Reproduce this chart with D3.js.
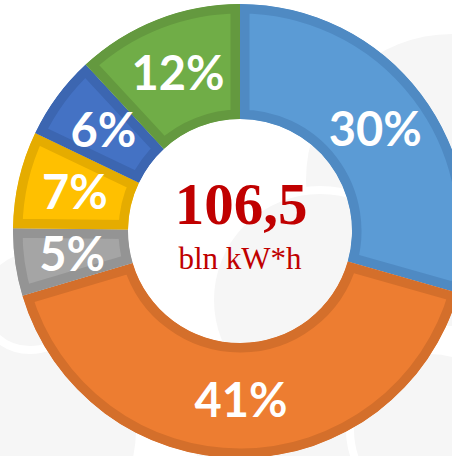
<!DOCTYPE html>
<html>
<head>
<meta charset="utf-8">
<script src="https://cdn.jsdelivr.net/npm/d3@7"></script>
<style>
  html, body { margin: 0; padding: 0; background: #fff; }
  svg { display: block; }
</style>
</head>
<body>
<svg width="452" height="456"></svg>
<script>
var sources = ['s1', 's2', 's3', 's4', 's5', 's6'];
var shares = [29.4, 41.0, 4.8, 6.9, 6.0, 11.9];
var shareLabels = ['30%', '41%', '5%', '7%', '6%', '12%'];
var fills = ['#5b9bd5', '#ed7d31', '#a5a5a5', '#ffc000', '#4472c4', '#70ad47'];
var borders = ['#4f8ac3', '#d46f2b', '#949494', '#e5ac00', '#3c66b1', '#64993f'];
var totalValue = '106,5';
var totalUnit = 'bln kW*h';

var svg = d3.select('svg');
var width = 452, height = 456;
var cx = 240, cy = 231;
var outerR = 227, innerR = 112;

// faint ornamental background (rough)
var bg = svg.append('g').attr('class', 'bg');
var bgBlobs = [
  [452, 180, 150], [10, 430, 130], [300, 430, 110], [430, 430, 80], [320, 300, 110], [30, 300, 50]
];
bg.selectAll('circle').data(bgBlobs).enter().append('circle')
  .attr('cx', function(d) { return d[0]; })
  .attr('cy', function(d) { return d[1]; })
  .attr('r', function(d) { return d[2]; })
  .attr('fill', '#f6f6f6')
  .attr('stroke', '#fff')
  .attr('stroke-width', 8);

var pie = d3.pie().sort(null).value(function(d) { return d; });
var arc = d3.arc().innerRadius(innerR).outerRadius(outerR);
var arcs = pie(shares);

var chart = svg.append('g').attr('transform', 'translate(' + cx + ',' + cy + ')');

var defs = svg.append('defs');
defs.selectAll('clipPath').data(arcs).enter().append('clipPath')
  .attr('id', function(d, i) { return 'clip-' + i; })
  .append('path')
  .attr('d', arc);

chart.selectAll('.slice').data(arcs).enter().append('path')
  .attr('class', 'slice')
  .attr('d', arc)
  .attr('fill', function(d, i) { return fills[i]; })
  .attr('stroke', function(d, i) { return borders[i]; })
  .attr('stroke-width', 19)
  .attr('clip-path', function(d, i) { return 'url(#clip-' + i + ')'; });

chart.selectAll('.pct').data(arcs).enter().append('text')
  .attr('class', 'pct')
  .attr('transform', function(d) { return 'translate(' + arc.centroid(d) + ')'; })
  .attr('text-anchor', 'middle')
  .attr('dy', '0.36em')
  .style('font-family', 'Lato, "Open Sans", sans-serif')
  .style('font-weight', 700)
  .style('font-size', '47px')
  .attr('fill', '#fff')
  .text(function(d, i) { return shareLabels[i]; });

chart.append('text')
  .attr('x', 1)
  .attr('y', -7)
  .attr('text-anchor', 'middle')
  .style('font-family', '"Liberation Serif", serif')
  .style('font-weight', 700)
  .style('font-size', '59px')
  .attr('fill', '#c00000')
  .text(totalValue);

chart.append('text')
  .attr('x', 0)
  .attr('y', 38)
  .attr('text-anchor', 'middle')
  .style('font-family', '"Liberation Serif", serif')
  .style('font-size', '31px')
  .attr('fill', '#c00000')
  .text(totalUnit);
</script>
</body>
</html>
